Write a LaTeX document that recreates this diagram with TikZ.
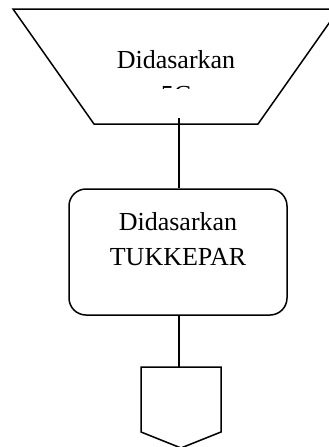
\documentclass[tikz,border=0pt]{standalone}
\usepackage{fontspec}
\setmainfont{Liberation Serif}
\begin{document}
\begin{tikzpicture}[x=1pt,y=-1pt,
  shape line/.style={draw=black,line width=1.5pt,line join=miter},
  conn/.style={draw=black,line width=1.5pt},
  label text/.style={font=\fontsize{26}{35}\selectfont,inner sep=0pt,align=center}]
\useasboundingbox (0,0) rectangle (329,447);
% trapezoid (top)
\draw[shape line] (13,9) -- (339,9) -- (258,124) -- (94,124) -- cycle;
\coordinate (trapbot) at (179,118);
\begin{scope}
  \clip (60,30) rectangle (300,88);
  \node[label text,anchor=base] (toptext) at (176,103) {Didasarkan\\5C};
\end{scope}
% rounded box
\node[shape line,rectangle,rounded corners=17pt,minimum width=218pt,minimum height=126pt,inner sep=0pt] (box) at (178,252) {};
\node[label text,anchor=base] (boxtext) at (178,265) {Didasarkan\\TUKKEPAR};
% off-page connector
\coordinate (pent) at (181,367);
\draw[shape line] (141,367) -- (221,367) -- (221,432) -- (181,448) -- (141,432) -- cycle;
% connectors
\draw[conn] (trapbot) -- (box.north -| trapbot);
\draw[conn] (box.south -| trapbot) -- (pent -| trapbot);
\end{tikzpicture}
\end{document}
